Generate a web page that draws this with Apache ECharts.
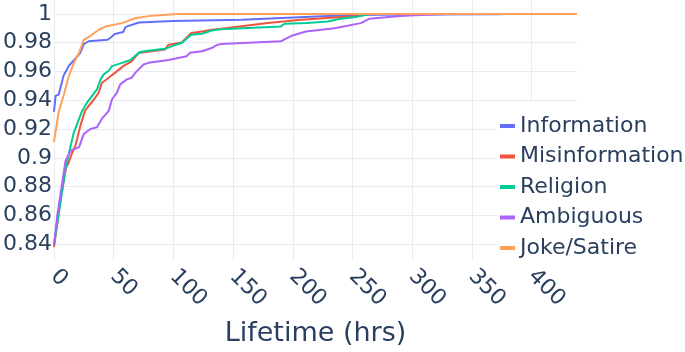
<!DOCTYPE html>
<html>
<head>
<meta charset="utf-8">
<script src="https://cdn.jsdelivr.net/npm/echarts@6/dist/echarts.min.js"></script>
<style>
  html, body { margin: 0; padding: 0; background: #fff; }
  #chart { width: 685px; height: 352px; }
</style>
</head>
<body>
<div id="chart"></div>
<script>
// ECDF of post lifetime per category, [hours, cumulative fraction]
var names = ['Information', 'Misinformation', 'Religion', 'Ambiguous', 'Joke/Satire'];
var colors = ['#636efa', '#EF553B', '#00cc96', '#ab63fa', '#FFA15A'];

var information = [[0,0.932],[1.3,0.943],[4,0.944],[8,0.957],[12.5,0.964],[18,0.969],[22,0.973],[25,0.979],[29,0.981],[45,0.982],[48,0.984],[51,0.986],[58,0.9874],[60,0.991],[71,0.994],[100,0.995],[157,0.9959],[215,0.998],[251,0.9993],[300,0.9996],[371,0.9997],[380,1],[438,1]];
var misinformation = [[0,0.838],[5,0.868],[10,0.893],[12,0.896],[15,0.903],[18,0.9085],[22,0.922],[26,0.9326],[29,0.936],[33,0.94],[37.5,0.9453],[40,0.952],[45.8,0.9556],[51,0.959],[58,0.9637],[65,0.967],[71,0.9729],[93,0.9752],[96,0.9786],[107,0.9802],[115,0.9867],[124,0.9878],[132,0.989],[140,0.9897],[179,0.9936],[207,0.9959],[235,0.9975],[254,0.9986],[265,1],[438,1]];
var religion = [[0,0.8395],[5.5,0.8694],[9.7,0.8924],[14,0.9085],[16.7,0.9177],[21,0.927],[23.6,0.9326],[27.7,0.9384],[36,0.9476],[39,0.9545],[41.7,0.958],[45.8,0.9605],[48.6,0.9637],[57,0.966],[64,0.968],[72,0.9736],[82,0.9747],[93,0.9757],[100,0.978],[107,0.9798],[110,0.982],[115,0.9855],[124,0.9862],[132,0.9885],[140,0.9894],[190,0.9912],[193,0.9931],[212,0.9936],[229,0.9947],[240,0.9966],[254,0.9981],[265,1],[438,1]];
var ambiguous = [[0,0.8395],[2.75,0.86],[7,0.883],[9.7,0.898],[14,0.905],[21,0.9074],[25,0.9166],[30.5,0.92],[36,0.9212],[40,0.927],[45.8,0.9326],[48.6,0.9407],[52.7,0.9453],[55.5,0.951],[61,0.9545],[65,0.9556],[68,0.959],[75,0.9648],[79,0.966],[96,0.968],[111,0.9706],[114,0.973],[124,0.974],[132,0.9763],[137,0.9786],[140,0.979],[190,0.981],[199,0.9848],[211,0.9878],[235,0.990],[257,0.9936],[264,0.9966],[290,0.9986],[307,0.9993],[330,1],[438,1]];
var jokeSatire = [[0,0.911],[4,0.932],[8.3,0.944],[12.5,0.957],[16.7,0.966],[21,0.973],[25,0.982],[30.5,0.9848],[37.5,0.989],[43,0.9912],[57,0.9936],[68,0.997],[82,0.9988],[104,1],[438,1]];

var xTicks = [0, 50, 100, 150, 200, 250, 300, 350, 400];
var yTicks = [0.84, 0.86, 0.88, 0.9, 0.92, 0.94, 0.96, 0.98, 1];

var seriesData = [information, misinformation, religion, ambiguous, jokeSatire];

var font = 'DejaVu Sans';
var textColor = '#2a3f5f';
var gridColor = '#e8ebef';

var chart = echarts.init(document.getElementById('chart'));

var series = seriesData.map(function (d, i) {
    return {
        name: names[i],
        type: 'line',
        data: d,
        showSymbol: false,
        lineStyle: { width: 2, color: colors[i] },
        itemStyle: { color: colors[i] },
        animation: false
    };
});

var option = {
    animation: false,
    grid: { left: 52, right: 108, top: 0, bottom: 89 },
    xAxis: {
        type: 'value',
        min: 0,
        max: 438,
        name: 'Lifetime (hrs)',
        nameLocation: 'middle',
        nameGap: 59,
        nameTextStyle: { fontFamily: font, fontSize: 27, color: textColor },
        axisLine: { show: false },
        axisTick: { show: false, customValues: xTicks },
        splitLine: { show: true, lineStyle: { color: gridColor, width: 1 } },
        axisLabel: {
            customValues: xTicks,
            rotate: -45,
            margin: 12,
            fontFamily: font,
            fontSize: 22,
            color: textColor
        }
    },
    yAxis: {
        type: 'value',
        min: 0.82828,
        max: 1.00966,
        axisLine: { show: false },
        axisTick: { show: false, customValues: yTicks },
        splitLine: { show: true, lineStyle: { color: gridColor, width: 1 } },
        axisLabel: {
            customValues: yTicks,
            margin: 2,
            fontFamily: font,
            fontSize: 22,
            color: textColor,
            formatter: function (v) { return String(+v.toFixed(2)); }
        }
    },
    legend: {
        orient: 'vertical',
        left: 497,
        top: 102,
        padding: [13, 10, 8, 3],
        backgroundColor: '#fff',
        icon: 'rect',
        itemWidth: 15,
        itemHeight: 4,
        itemGap: 8.5,
        data: names,
        textStyle: { fontFamily: font, fontSize: 22, lineHeight: 22, color: textColor }
    },
    series: series
};

chart.setOption(option);
</script>
</body>
</html>
